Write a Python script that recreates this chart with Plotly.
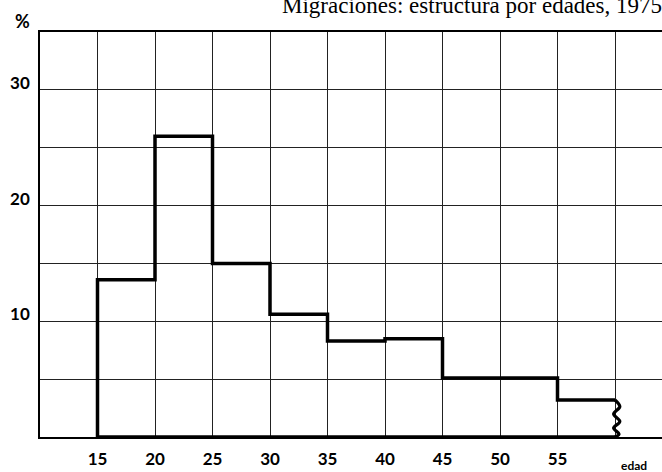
import plotly.graph_objects as go

# ---- data ----
bin_edges = [15, 20, 25, 30, 35, 40, 45, 50, 55, 60]
pct_values = [13.6, 26.0, 15.0, 10.6, 8.3, 8.5, 5.1, 5.1, 3.2]
x_tickvals = [15, 20, 25, 30, 35, 40, 45, 50, 55, 60]
x_ticktext = ["15", "20", "25", "30", "35", "40", "45", "50", "55", ""]
y_tickvals = [0, 5, 10, 15, 20, 25, 30, 35]
y_ticktext = ["", "", "10", "", "20", "", "30", ""]
title_text = "Migraciones: estructura por edades, 1975"

# ---- step outline built from the bins ----
xs, ys = [bin_edges[0]], [0]
for i, v in enumerate(pct_values):
    xs += [bin_edges[i], bin_edges[i + 1]]
    ys += [v, v]

# wavy break at the last edge (decorative offsets)
wave_dx = [0, 0.42, -0.12, 0.42, -0.12, 0.35, 0.0]
wave_fy = [1.0, 0.82, 0.62, 0.42, 0.24, 0.08, 0.0]
last_edge = bin_edges[-1]
last_val = pct_values[-1]
wx = [last_edge + d for d in wave_dx]
wy = [last_val * f for f in wave_fy]

fig = go.Figure()
fig.add_trace(go.Scatter(x=xs, y=ys, mode="lines",
                         line=dict(color="black", width=3.5, shape="linear"),
                         hoverinfo="skip", showlegend=False))
fig.add_trace(go.Scatter(x=wx, y=wy, mode="lines",
                         line=dict(color="black", width=3.2, shape="spline"),
                         hoverinfo="skip", showlegend=False))
fig.add_trace(go.Scatter(x=[bin_edges[0], last_edge], y=[0, 0], mode="lines",
                         line=dict(color="black", width=3.5),
                         hoverinfo="skip", showlegend=False))

tickfont = dict(family="Lato, 'DejaVu Sans', sans-serif", size=17, color="black", weight="bold")

fig.update_layout(
    width=662, height=472,
    margin=dict(l=40, r=0, t=32, b=35, autoexpand=False),
    paper_bgcolor="white", plot_bgcolor="white",
    xaxis=dict(range=[10, 10 + 622 / 11.5], tickvals=x_tickvals, ticktext=x_ticktext,
               showgrid=True, gridcolor="#222", gridwidth=1,
               showline=True, linecolor="black", linewidth=1.5, mirror=True,
               ticks="", tickfont=tickfont, ticklabelstandoff=6, zeroline=False,
               automargin=False),
    yaxis=dict(range=[0, 35], tickvals=y_tickvals, ticktext=y_ticktext,
               showgrid=True, gridcolor="#222", gridwidth=1,
               showline=True, linecolor="black", linewidth=1.5,
               ticks="", tickfont=tickfont, ticklabelstandoff=5, ticklabelshift=-7,
               zeroline=False, automargin=False),
    annotations=[
        dict(text=title_text, xref="paper", yref="paper", x=(280 - 40) / 622, y=1,
             xanchor="left", yanchor="bottom", yshift=12, showarrow=False,
             font=dict(family="'Liberation Serif', 'Times New Roman', serif", size=23, color="black")),
        dict(text="%", xref="paper", yref="paper", x=(22 - 40) / 622, y=1,
             xanchor="center", yanchor="middle", yshift=11, showarrow=False,
             font=dict(family="Lato, 'DejaVu Sans', sans-serif", size=18, color="black", weight="bold")),
        dict(text="edad", xref="paper", yref="paper", x=(634 - 40) / 622, y=0,
             xanchor="center", yanchor="middle", yshift=-28, showarrow=False,
             font=dict(family="Lato, 'DejaVu Sans', sans-serif", size=12, color="black", weight="bold")),
    ],
)

fig.write_html("out.html", config={"displayModeBar": False},
               post_script="document.body.style.margin='0';document.body.style.overflow='hidden';")
